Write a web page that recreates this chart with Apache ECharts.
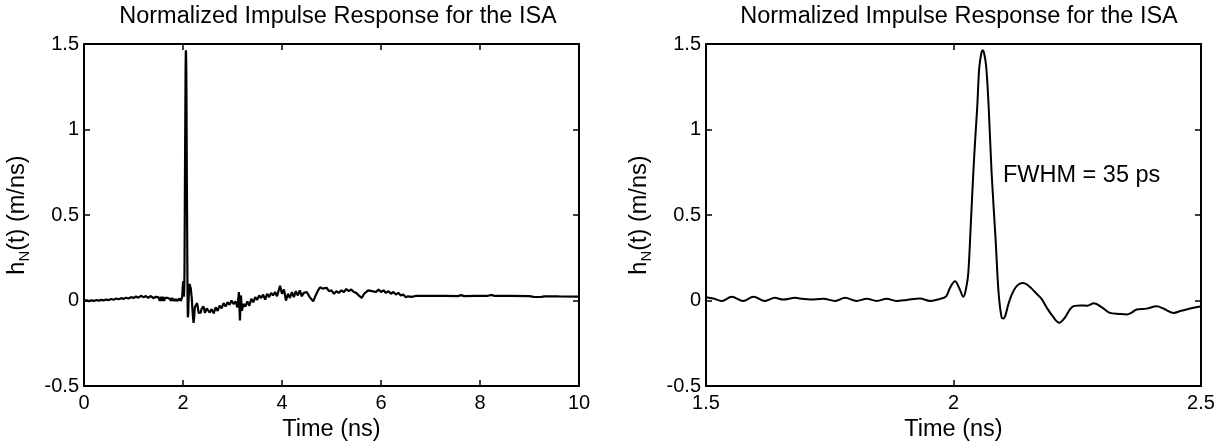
<!DOCTYPE html>
<html>
<head>
<meta charset="utf-8">
<script src="https://cdn.jsdelivr.net/npm/echarts@6/dist/echarts.min.js"></script>
<style>
  html, body { margin: 0; padding: 0; background: #fff; }
  #chart { width: 1225px; height: 447px; }
</style>
</head>
<body>
<div id="chart"></div>
<script>
// Normalized impulse response h_N(t) of the ISA, in m/ns, versus time in ns.

// Pre-pulse baseline, 0 to 1.45 ns
const earlyTime = [0, 0.05, 0.10, 0.15, 0.20, 0.25, 0.30, 0.35, 0.40, 0.45, 0.50, 0.55, 0.60, 0.65, 0.70,
  0.75, 0.80, 0.85, 0.90, 0.95, 1.00, 1.05, 1.10, 1.15, 1.20, 1.25, 1.30, 1.35, 1.40, 1.45];
const earlyValue = [0.000, 0.002, -0.003, 0.001, -0.002, 0.003, 0.000, 0.004, 0.001, 0.006, 0.003, 0.009, 0.005, 0.012, 0.008,
  0.014, 0.010, 0.017, 0.012, 0.020, 0.015, 0.024, 0.017, 0.028, 0.020, 0.026, 0.016, 0.027, 0.014, 0.022];

// Main pulse, 1.5 to 2.5 ns (also the zoomed view)
const pulseTime = [1.500, 1.515, 1.532, 1.552, 1.575, 1.596, 1.619, 1.639, 1.656, 1.680, 1.695, 1.710, 1.737, 1.761,
  1.781, 1.804, 1.825, 1.845, 1.865, 1.885, 1.906, 1.932, 1.953, 1.973, 1.985, 1.993, 2.003, 2.012, 2.020,
  2.026, 2.030, 2.035, 2.040, 2.044, 2.048, 2.052, 2.0565, 2.059, 2.0615, 2.066, 2.071, 2.077, 2.085, 2.091,
  2.097, 2.1006, 2.105, 2.110, 2.117, 2.125, 2.133, 2.140, 2.148, 2.158, 2.168, 2.178, 2.188, 2.200, 2.2138,
  2.225, 2.239, 2.2556, 2.270, 2.284, 2.300, 2.316, 2.335, 2.350, 2.360, 2.370, 2.390, 2.4105, 2.425, 2.444,
  2.460, 2.480, 2.498];
const pulseValue = [0.020, 0.012, -0.002, 0.022, -0.002, 0.022, -0.002, 0.016, 0.006, 0.016, 0.010, 0.006, 0.010, -0.002,
  0.016, -0.002, 0.010, -0.002, 0.010, -0.002, 0.004, 0.012, -0.002, 0.010, 0.025, 0.075, 0.113, 0.070, 0.022,
  0.080, 0.165, 0.450, 0.746, 0.950, 1.134, 1.360, 1.450, 1.463, 1.450, 1.370, 1.134, 0.746, 0.359, 0.049,
  -0.097, -0.105, -0.085, -0.030, 0.030, 0.075, 0.097, 0.103, 0.095, 0.070, 0.040, 0.010, -0.039, -0.090, -0.130,
  -0.100, -0.039, -0.029, -0.030, -0.015, -0.040, -0.072, -0.078, -0.081, -0.070, -0.052, -0.047, -0.033, -0.048, -0.072,
  -0.060, -0.045, -0.035];

// Ringing and late-time tail, 2.54 to 10 ns
const lateTime = [2.54, 2.58, 2.62, 2.66, 2.70, 2.74, 2.78, 2.82, 2.86, 2.90, 2.94, 2.98, 3.02, 3.06, 3.10, 3.13, 3.15,
  3.17, 3.19, 3.22, 3.26, 3.30, 3.34, 3.38, 3.42, 3.46, 3.50, 3.54, 3.58, 3.62, 3.66, 3.70, 3.74, 3.78, 3.82,
  3.86, 3.90, 3.96, 4.00, 4.04, 4.08, 4.12, 4.16, 4.20, 4.24, 4.28, 4.32, 4.36, 4.40, 4.44, 4.50, 4.56, 4.63,
  4.68, 4.72, 4.77, 4.82, 4.86, 4.90, 4.95, 5.00, 5.05, 5.10, 5.15, 5.20, 5.25, 5.30, 5.35, 5.40, 5.45, 5.50,
  5.55, 5.61, 5.66, 5.70, 5.74, 5.78, 5.82, 5.86, 5.90, 5.95, 6.00, 6.05, 6.10, 6.15, 6.20, 6.25, 6.30, 6.35,
  6.40, 6.45, 6.50, 6.55, 6.62, 6.70, 7.00, 7.30, 7.55, 7.62, 7.68, 7.90, 8.15, 8.22, 8.30, 8.60, 9.00, 9.08,
  9.12, 9.16, 9.20, 9.24, 9.30, 9.60, 10.0];
const lateValue = [-0.070, -0.050, -0.075, -0.040, -0.060, -0.030, -0.045, -0.015, -0.035, -0.010, -0.025, 0.000, -0.020, -0.005, -0.040, 0.050, -0.116,
  0.030, -0.060, -0.020, -0.035, -0.005, -0.030, 0.010, -0.010, 0.020, 0.005, 0.030, 0.015, 0.035, 0.005, 0.040, 0.020, 0.045, 0.030,
  0.050, 0.025, 0.087, 0.040, 0.065, 0.000, 0.040, 0.015, 0.050, 0.020, 0.055, 0.030, 0.060, 0.025, 0.045, 0.050, 0.020, -0.005,
  0.030, 0.055, 0.078, 0.070, 0.060, 0.075, 0.055, 0.060, 0.040, 0.055, 0.045, 0.060, 0.050, 0.068, 0.055, 0.065, 0.050, 0.045,
  0.030, 0.015, 0.040, 0.050, 0.060, 0.065, 0.055, 0.060, 0.050, 0.065, 0.050, 0.060, 0.045, 0.055, 0.040, 0.050, 0.035, 0.045,
  0.030, 0.035, 0.020, 0.025, 0.022, 0.027, 0.027, 0.027, 0.026, 0.032, 0.026, 0.027, 0.027, 0.033, 0.027, 0.027, 0.026, 0.022,
  0.030, 0.021, 0.029, 0.022, 0.025, 0.024, 0.023];

const yTicks = [-0.5, 1.5, 0.5];          // min, max, step of the response axis
const fullRange = [0, 10, 2];             // full record, ns
const zoomRange = [1.5, 2.5, 0.5];        // zoomed window, ns
const chartTitle = 'Normalized Impulse Response for the ISA';
const xName = 'Time (ns)';
const fwhmText = 'FWHM = 35 ps';
const fwhmAt = [2.1, 0.73];

const pairs = (ts, vs) => ts.map((t, i) => [t, vs[i]]);
const fullData = pairs(earlyTime, earlyValue)
  .concat(pairs(pulseTime, pulseValue))
  .concat(pairs(lateTime, lateValue));
const zoomData = pairs(pulseTime, pulseValue);

const FONT = 'Liberation Sans, Arial, Helvetica, sans-serif';
const TITLE_SIZE = 23.5;
const NAME_SIZE = 23.5;
const TICK_SIZE = 20;
const grids = [
  { left: 84, top: 44, width: 495, height: 344 },
  { left: 706, top: 44, width: 495, height: 344 }
];

const tick = { show: true, inside: true, length: 6, lineStyle: { color: '#000', width: 1.5 } };
const line = { show: true, onZero: false, lineStyle: { color: '#000', width: 2 } };

function xAx(gi, r, pos, labels) {
  return {
    type: 'value', gridIndex: gi, position: pos, min: r[0], max: r[1], interval: r[2],
    axisLine: line, axisTick: tick, splitLine: { show: false },
    axisLabel: { show: labels, color: '#000', fontFamily: FONT, fontSize: TICK_SIZE, margin: 7 },
    name: labels ? xName : '', nameLocation: 'middle', nameGap: 31,
    nameTextStyle: { color: '#000', fontFamily: FONT, fontSize: NAME_SIZE }
  };
}
function yAx(gi, pos, labels) {
  return {
    type: 'value', gridIndex: gi, position: pos, min: yTicks[0], max: yTicks[1], interval: yTicks[2],
    axisLine: line, axisTick: tick, splitLine: { show: false },
    axisLabel: { show: labels, color: '#000', fontFamily: FONT, fontSize: TICK_SIZE, margin: 5 },
    name: labels ? '{b|h}{s|N}{b|(t) (m/ns)}' : '', nameLocation: 'middle', nameGap: 52, nameRotate: 90,
    nameTextStyle: {
      color: '#000', fontFamily: FONT,
      rich: {
        b: { fontSize: NAME_SIZE, fontFamily: FONT, color: '#000', lineHeight: 28 },
        s: { fontSize: 15, fontFamily: FONT, color: '#000', lineHeight: 28, padding: [13, 0, 0, 0] }
      }
    }
  };
}

const series = (xi, yi, data, smooth) => ({
  type: 'line', xAxisIndex: xi, yAxisIndex: yi, data, showSymbol: false, symbol: 'none', smooth,
  lineStyle: { color: '#000', width: 2.2 }, clip: true, animation: false, silent: true
});

const chart = echarts.init(document.getElementById('chart'), null, { renderer: 'canvas' });
const zoomSeries = series(1, 1, zoomData, 0.35);
zoomSeries.lineStyle.width = 2;
zoomSeries.markPoint = {
  symbol: 'circle', symbolSize: 0, silent: true, animation: false,
  data: [{ coord: fwhmAt, value: fwhmText }],
  label: { show: true, position: 'right', distance: 0, formatter: fwhmText, color: '#000', fontFamily: FONT, fontSize: NAME_SIZE }
};

chart.setOption({
  animation: false,
  backgroundColor: '#fff',
  title: [
    { text: chartTitle, left: 333, top: 0, textAlign: 'center', textStyle: { color: '#000', fontFamily: FONT, fontSize: TITLE_SIZE, fontWeight: 'normal' } },
    { text: chartTitle, left: 954, top: 0, textAlign: 'center', textStyle: { color: '#000', fontFamily: FONT, fontSize: TITLE_SIZE, fontWeight: 'normal' } }
  ],
  grid: grids,
  xAxis: [
    xAx(0, fullRange, 'bottom', true),
    xAx(1, zoomRange, 'bottom', true),
    xAx(0, fullRange, 'top', false),
    xAx(1, zoomRange, 'top', false)
  ],
  yAxis: [
    yAx(0, 'left', true),
    yAx(1, 'left', true),
    yAx(0, 'right', false),
    yAx(1, 'right', false)
  ],
  series: [series(0, 0, fullData, false), zoomSeries]
});
</script>
</body>
</html>
